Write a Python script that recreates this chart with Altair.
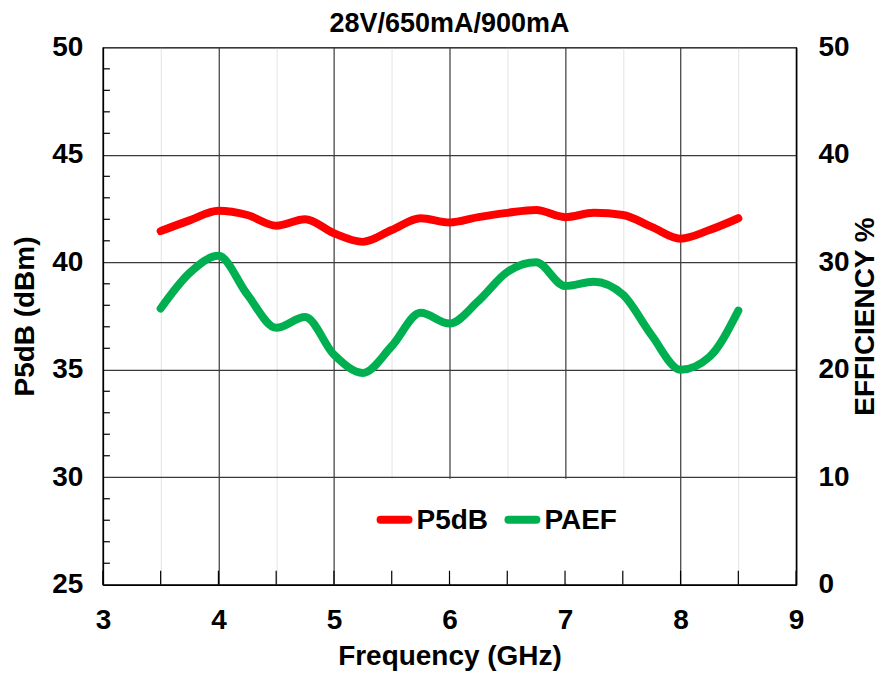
import altair as alt
import pandas as pd

# ---- data ----
freq = [3.5, 3.75, 4.0, 4.25, 4.5, 4.75, 5.0, 5.25, 5.5, 5.75, 6.0,
        6.25, 6.5, 6.75, 7.0, 7.25, 7.5, 7.75, 8.0, 8.25, 8.5]
p5db = [41.45, 41.95, 42.4, 42.2, 41.7, 42.0, 41.35, 40.95, 41.5, 42.05, 41.85,
        42.1, 42.3, 42.43, 42.1, 42.3, 42.2, 41.65, 41.1, 41.5, 42.05]
paef = [25.7, 29.0, 30.6, 27.0, 23.9, 24.9, 21.4, 19.7, 22.2, 25.3, 24.3,
        26.4, 29.1, 30.0, 27.8, 28.2, 27.0, 23.2, 20.0, 21.2, 25.5]

x_ticks = [3, 3.5, 4, 4.5, 5, 5.5, 6, 6.5, 7, 7.5, 8, 8.5, 9]
left_major = [25, 30, 35, 40, 45, 50]
left_minor = [26, 27, 28, 29, 31, 32, 33, 34, 36, 37, 38, 39,
              41, 42, 43, 44, 46, 47, 48, 49]
right_major = [0, 10, 20, 30, 40, 50]
series_names = ["P5dB", "PAEF"]
series_colors = ["#FF0000", "#00B050"]

W, H = 694, 538
FONT = "Liberation Sans"
FS = 28

df = pd.DataFrame({"freq": freq, "p5db": p5db, "paef": paef})
one = pd.DataFrame({"a": [0]})

xscale = alt.Scale(domain=[3, 9], nice=False, zero=False)
lscale = alt.Scale(domain=[25, 50], nice=False, zero=False)
rscale = alt.Scale(domain=[0, 50], nice=False, zero=False)

x_axis = alt.Axis(
    values=x_ticks,
    labelExpr="datum.value % 1 == 0 ? format(datum.value, 'd') : ''",
    title="Frequency (GHz)",
    grid=True,
    gridColor={"condition": {"test": "datum.value % 1 != 0", "value": "#e8e8e8"},
               "value": "#3a3a3a"},
    gridWidth=1.2,
    ticks=False,
    labelFlush=False,
    labelPadding=22,
    titlePadding=8,
    domainColor="#000000",
    domainWidth=1.5,
)

red = alt.Chart(df).mark_line(
    color=series_colors[0], strokeWidth=8, strokeCap="round", strokeJoin="round",
    interpolate="monotone"
).encode(
    x=alt.X("freq:Q", scale=xscale, axis=x_axis),
    y=alt.Y("p5db:Q", scale=lscale, axis=alt.Axis(
        values=left_major, title="P5dB (dBm)", grid=True, gridColor="#3a3a3a",
        gridWidth=1.2, ticks=False, labelFlush=False, labelPadding=20, titlePadding=12,
        domainColor="#000000", domainWidth=1.5)),
)

green = alt.Chart(df).mark_line(
    color=series_colors[1], strokeWidth=8, strokeCap="round", strokeJoin="round",
    interpolate="monotone"
).encode(
    x=alt.X("freq:Q", scale=xscale, axis=x_axis),
    y=alt.Y("paef:Q", scale=rscale, axis=alt.Axis(
        orient="right", values=right_major, title="EFFICIENCY %", grid=False,
        ticks=False, labelFlush=False, labelPadding=22, titlePadding=2, titleAngle=270,
        titleBaseline="top",
        domainColor="#000000", domainWidth=1.5)),
)

box = alt.Chart(one).mark_rect(color="white").encode(
    x=alt.value(242), x2=alt.value(537), y=alt.value(432), y2=alt.value(H - 1)
)

xt = alt.Chart(pd.DataFrame({"v": x_ticks})).mark_rule(color="#000000", strokeWidth=1.2).encode(
    x=alt.X("v:Q", scale=xscale, axis=x_axis), y=alt.value(H), y2=alt.value(H - 14)
)

yt = alt.Chart(pd.DataFrame({"v": left_minor})).mark_rule(color="#000000", strokeWidth=1.2).encode(
    y=alt.Y("v:Q", scale=lscale, axis=None), x=alt.value(0), x2=alt.value(7)
)

leg_y = 473
leg = []
for name, col, x0, tx in zip(series_names, series_colors, [278, 406], [314, 442]):
    leg.append(alt.Chart(one).mark_rule(color=col, strokeWidth=8, strokeCap="round").encode(
        x=alt.value(x0), x2=alt.value(x0 + 28), y=alt.value(leg_y)))
    leg.append(alt.Chart(one).mark_text(
        font=FONT, fontWeight="bold", fontSize=FS, align="left", baseline="middle",
        color="#000000").encode(
        x=alt.value(tx), y=alt.value(leg_y + 1), text=alt.value(name)))

chart = alt.layer(box, xt, yt, red, green, *leg).resolve_scale(
    y="independent"
).properties(
    width=W, height=H,
    title=alt.TitleParams("28V/650mA/900mA", font=FONT, fontSize=27, fontWeight="bold",
                          color="#000000", offset=-5, anchor="middle"),
    autosize=alt.AutoSizeParams(type="none"),
    padding={"left": 95, "top": 39, "right": 86, "bottom": 94},
).configure_view(
    stroke="#3a3a3a", strokeWidth=1.2
).configure_axis(
    labelFont=FONT, labelFontSize=FS, labelFontWeight="bold", labelColor="#000000",
    titleFont=FONT, titleFontSize=FS, titleFontWeight="bold", titleColor="#000000",
)

chart.save("out.html", embed_options={"renderer": "svg", "actions": False})
